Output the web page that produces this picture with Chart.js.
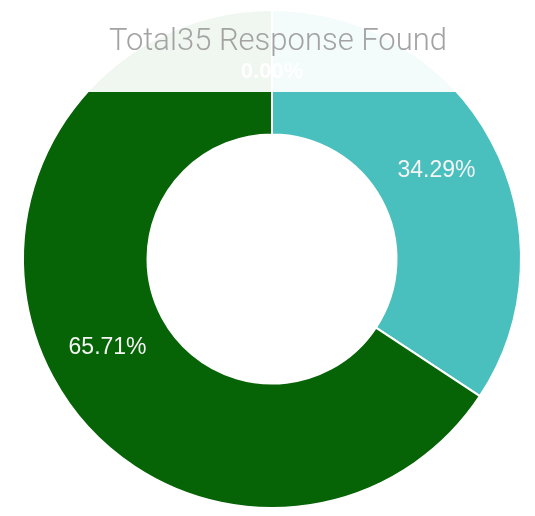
<!DOCTYPE html>
<html>
<head>
<meta charset="utf-8">
<script src="https://cdn.jsdelivr.net/npm/chart.js@4/dist/chart.umd.min.js"></script>
<style>
  html, body { margin: 0; padding: 0; background: #fff; }
  #wrap { position: relative; width: 535px; height: 516px; }
</style>
</head>
<body>
<div id="wrap"><canvas id="responseChart"></canvas></div>
<script>
const labels = ['No Response', 'Yes', 'No'];
const counts = [0, 12, 23];
const colors = ['#f2c94c', '#49bfbe', '#066306'];
const titleText = 'Total' + counts.reduce((a, b) => a + b, 0) + ' Response Found';

// percentage labels in the middle of each arc
const percentLabels = {
  id: 'percentLabels',
  afterDatasetsDraw(chart) {
    const ctx = chart.ctx;
    const meta = chart.getDatasetMeta(0);
    const total = counts.reduce((a, b) => a + b, 0);
    ctx.save();
    ctx.textAlign = 'center';
    ctx.textBaseline = 'middle';
    ctx.fillStyle = '#f4f4f4';
    meta.data.forEach((arc, i) => {
      const pos = arc.tooltipPosition();
      const pct = (counts[i] / total * 100).toFixed(2) + '%';
      ctx.font = counts[i] === 0
        ? 'bold 22px "Liberation Sans", Arial, sans-serif'
        : '23px "Liberation Sans", Arial, sans-serif';
      ctx.fillText(pct, pos.x, pos.y);
    });
    ctx.restore();
  }
};

// translucent header band with the title over the top of the ring
const headerBand = {
  id: 'headerBand',
  afterDraw(chart) {
    const ctx = chart.ctx;
    ctx.save();
    ctx.fillStyle = 'rgba(255,255,255,0.94)';
    ctx.fillRect(0, 0, chart.width, 92);
    ctx.fillStyle = '#a3a3a3';
    ctx.font = '300 31px Roboto, sans-serif';
    ctx.textAlign = 'center';
    ctx.textBaseline = 'alphabetic';
    ctx.fillText(titleText, 278, 50);
    ctx.restore();
  }
};

const config = {
  type: 'doughnut',
  data: {
    labels: labels,
    datasets: [
      {
        data: counts,
        backgroundColor: colors,
        borderColor: '#ffffff',
        borderWidth: 2,
      },
    ],
  },
  options: {
    responsive: true,
    maintainAspectRatio: false,
    animation: false,
    cutout: '50%',
    layout: {
      padding: { left: 12, right: 3, top: 9, bottom: 7 },
    },
    plugins: {
      legend: { display: false },
      tooltip: { enabled: false },
    },
  },
  plugins: [percentLabels, headerBand],
};

const responseChart = new Chart(document.getElementById('responseChart'), config);
</script>
</body>
</html>
